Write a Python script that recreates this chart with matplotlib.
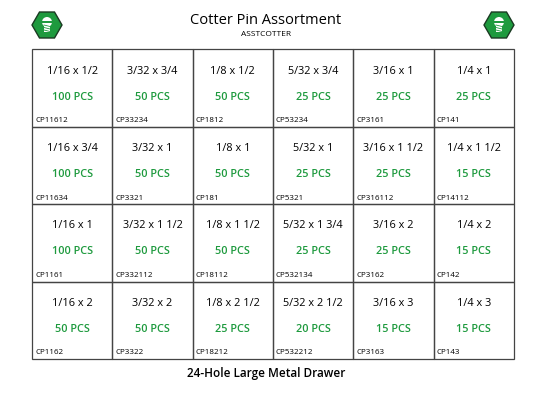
import matplotlib.pyplot as plt
from matplotlib.patches import RegularPolygon, Rectangle

plt.rcParams['font.family'] = ['Open Sans', 'DejaVu Sans']

sizes = [
    ["1/16 x 1/2", "3/32 x 3/4", "1/8 x 1/2", "5/32 x 3/4", "3/16 x 1", "1/4 x 1"],
    ["1/16 x 3/4", "3/32 x 1", "1/8 x 1", "5/32 x 1", "3/16 x 1 1/2", "1/4 x 1 1/2"],
    ["1/16 x 1", "3/32 x 1 1/2", "1/8 x 1 1/2", "5/32 x 1 3/4", "3/16 x 2", "1/4 x 2"],
    ["1/16 x 2", "3/32 x 2", "1/8 x 2 1/2", "5/32 x 2 1/2", "3/16 x 3", "1/4 x 3"],
]
qty = [
    [100, 50, 50, 25, 25, 25],
    [100, 50, 50, 25, 25, 15],
    [100, 50, 50, 25, 25, 15],
    [50, 50, 25, 20, 15, 15],
]
codes = [
    ["CP11612", "CP33234", "CP1812", "CP53234", "CP3161", "CP141"],
    ["CP11634", "CP3321", "CP181", "CP5321", "CP316112", "CP14112"],
    ["CP1161", "CP332112", "CP18112", "CP532134", "CP3162", "CP142"],
    ["CP1162", "CP3322", "CP18212", "CP532212", "CP3163", "CP143"],
]

green = "#1e9a3e"
fig = plt.figure(figsize=(5.33, 4.01), dpi=100)
ax = fig.add_axes([0, 0, 1, 1])
ax.set_xlim(0, 533)
ax.set_ylim(401, 0)
ax.axis('off')

x0, x1, y0, y1 = 32, 514, 49, 359
cw = (x1 - x0) / 6
rh = (y1 - y0) / 4
for r in range(4):
    for c in range(6):
        cx = x0 + c * cw
        cy = y0 + r * rh
        ax.add_patch(Rectangle((cx, cy), cw, rh, fill=False, ec="#444444", lw=0.9))
        ax.text(cx + cw / 2, cy + 22, sizes[r][c], ha='center', va='center', fontsize=7.8)
        ax.text(cx + cw / 2, cy + 48, f"{qty[r][c]} PCS", ha='center', va='center',
                fontsize=7.8, color=green, fontweight='semibold')
        ax.text(cx + 3, cy + rh - 6, codes[r][c], ha='left', va='center', fontsize=5.8)

ax.text(266, 21, "Cotter Pin Assortment", ha='center', va='center', fontsize=10.5)
ax.text(266, 35, "ASSTCOTTER", ha='center', va='center', fontsize=6)
ax.text(266, 373, "24-Hole Large Metal Drawer", ha='center', va='center', fontsize=8.5, fontweight='semibold')

# screw icons
for hx in [47, 499]:
    ax.add_patch(RegularPolygon((hx, 25), 6, radius=15, orientation=0.5236, fc=green, ec="#1a3a22", lw=1))
    ax.add_patch(plt.Circle((hx, 22), 5, fc='white', ec='none'))
    ax.add_patch(Rectangle((hx - 3, 21), 6, 11, fc='white', ec='none'))
    ax.add_patch(Rectangle((hx - 6, 21), 12, 2, fc=green, ec='none'))
    for k in range(3):
        ax.plot([hx - 3, hx + 3], [25 + k * 2.5, 26.5 + k * 2.5], color=green, lw=0.6)

fig.savefig("out.png", dpi=100)
